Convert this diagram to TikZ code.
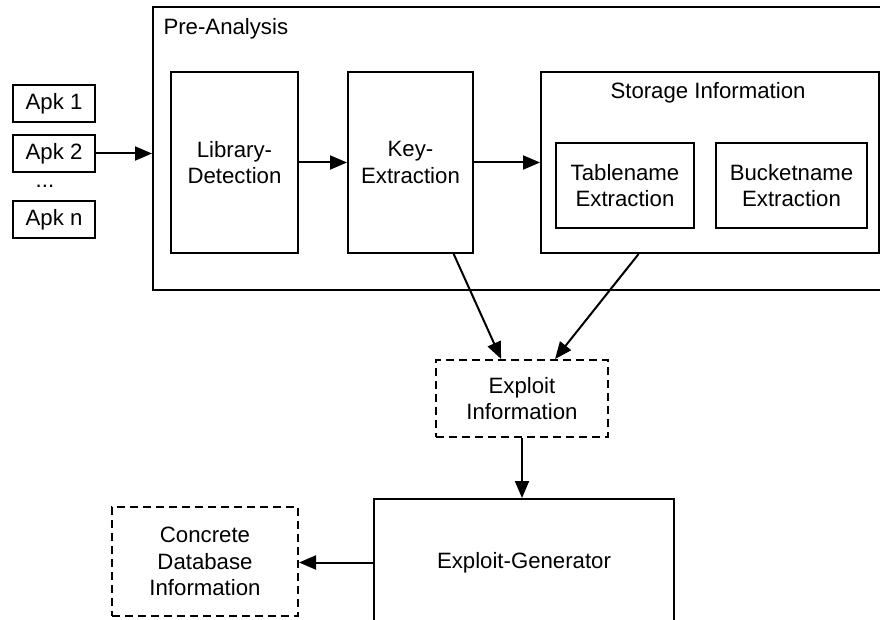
\documentclass[tikz,border=0pt]{standalone}
\usepackage{fontspec}
\setmainfont{Liberation Sans}
\usetikzlibrary{calc,arrows.meta}
\tikzset{
	box/.style={draw, line width=2pt, align=center, inner sep=0pt, anchor=north west},
	dashbox/.style={box, dash pattern=on 8pt off 5pt},
	flow/.style={line width=2pt, -{Triangle[length=17pt,width=14pt]}}
}

\begin{document}
\begin{tikzpicture}[x=1pt, y=-1pt, font=\fontsize{22.2}{26.7}\selectfont]
			%%%%% START %%%%%
			
			\useasboundingbox (0, 0) rectangle (880, 620);
			\clip (0, 0) rectangle (880, 620);
			
			\node[box, minimum width=738, minimum height=283] (pre) at (152, 6) {};
			\node[anchor=base west] (pretitle) at (160, 35) {Pre-Analysis};
			
			\node[box, minimum width=82, minimum height=37] (apk1) at (12, 84) {Apk 1};
			\node[box, minimum width=82, minimum height=37] (apk2) at (12, 134) {Apk 2};
			\node (dots) at (45, 186) {...};
			\node[box, minimum width=82, minimum height=37] (apkn) at (12, 200) {Apk n};
			
			\node[box, minimum width=127, minimum height=181] (lib) at (170, 71) {Library-\\Detection};
			\node[box, minimum width=125, minimum height=181] (key) at (347, 71) {Key-\\Extraction};
			
			\node[box, minimum width=338, minimum height=181] (storage) at (540, 71) {};
			\node[anchor=base] (storagetitle) at (708, 99) {Storage Information};
			\node[box, minimum width=138, minimum height=85] (table) at (555, 142) {Tablename\\Extraction};
			\node[box, minimum width=151, minimum height=85] (bucket) at (715, 142) {Bucketname\\Extraction};
			
			\node[dashbox, minimum width=172, minimum height=77] (info) at (435, 359) {Exploit\\Information};
			\node[box, minimum width=300, minimum height=127] (gen) at (373, 498) {Exploit-Generator};
			\node[dashbox, minimum width=186, minimum height=109] (concrete) at (111, 506) {Concrete\\Database\\Information};
			
			\draw[flow] (apk2.east) -- (apk2 -| pre.west);
			\draw[flow] (lib) -- (key);
			\draw[flow] (key) -- (storage);
			\draw[flow] ($(key.south west)!0.84!(key.south east)$) -- ($(info.north west)!0.38!(info.north east)$);
			\draw[flow] ($(storage.south west)!0.29!(storage.south east)$) -- ($(info.north west)!0.69!(info.north east)$);
			\draw[flow] (info.south) -- (info.south |- gen.north);
			\draw[flow] (gen.west) -- (gen.west -| concrete.east);
			
			%%%%% END %%%%%
\end{tikzpicture}
\end{document}
